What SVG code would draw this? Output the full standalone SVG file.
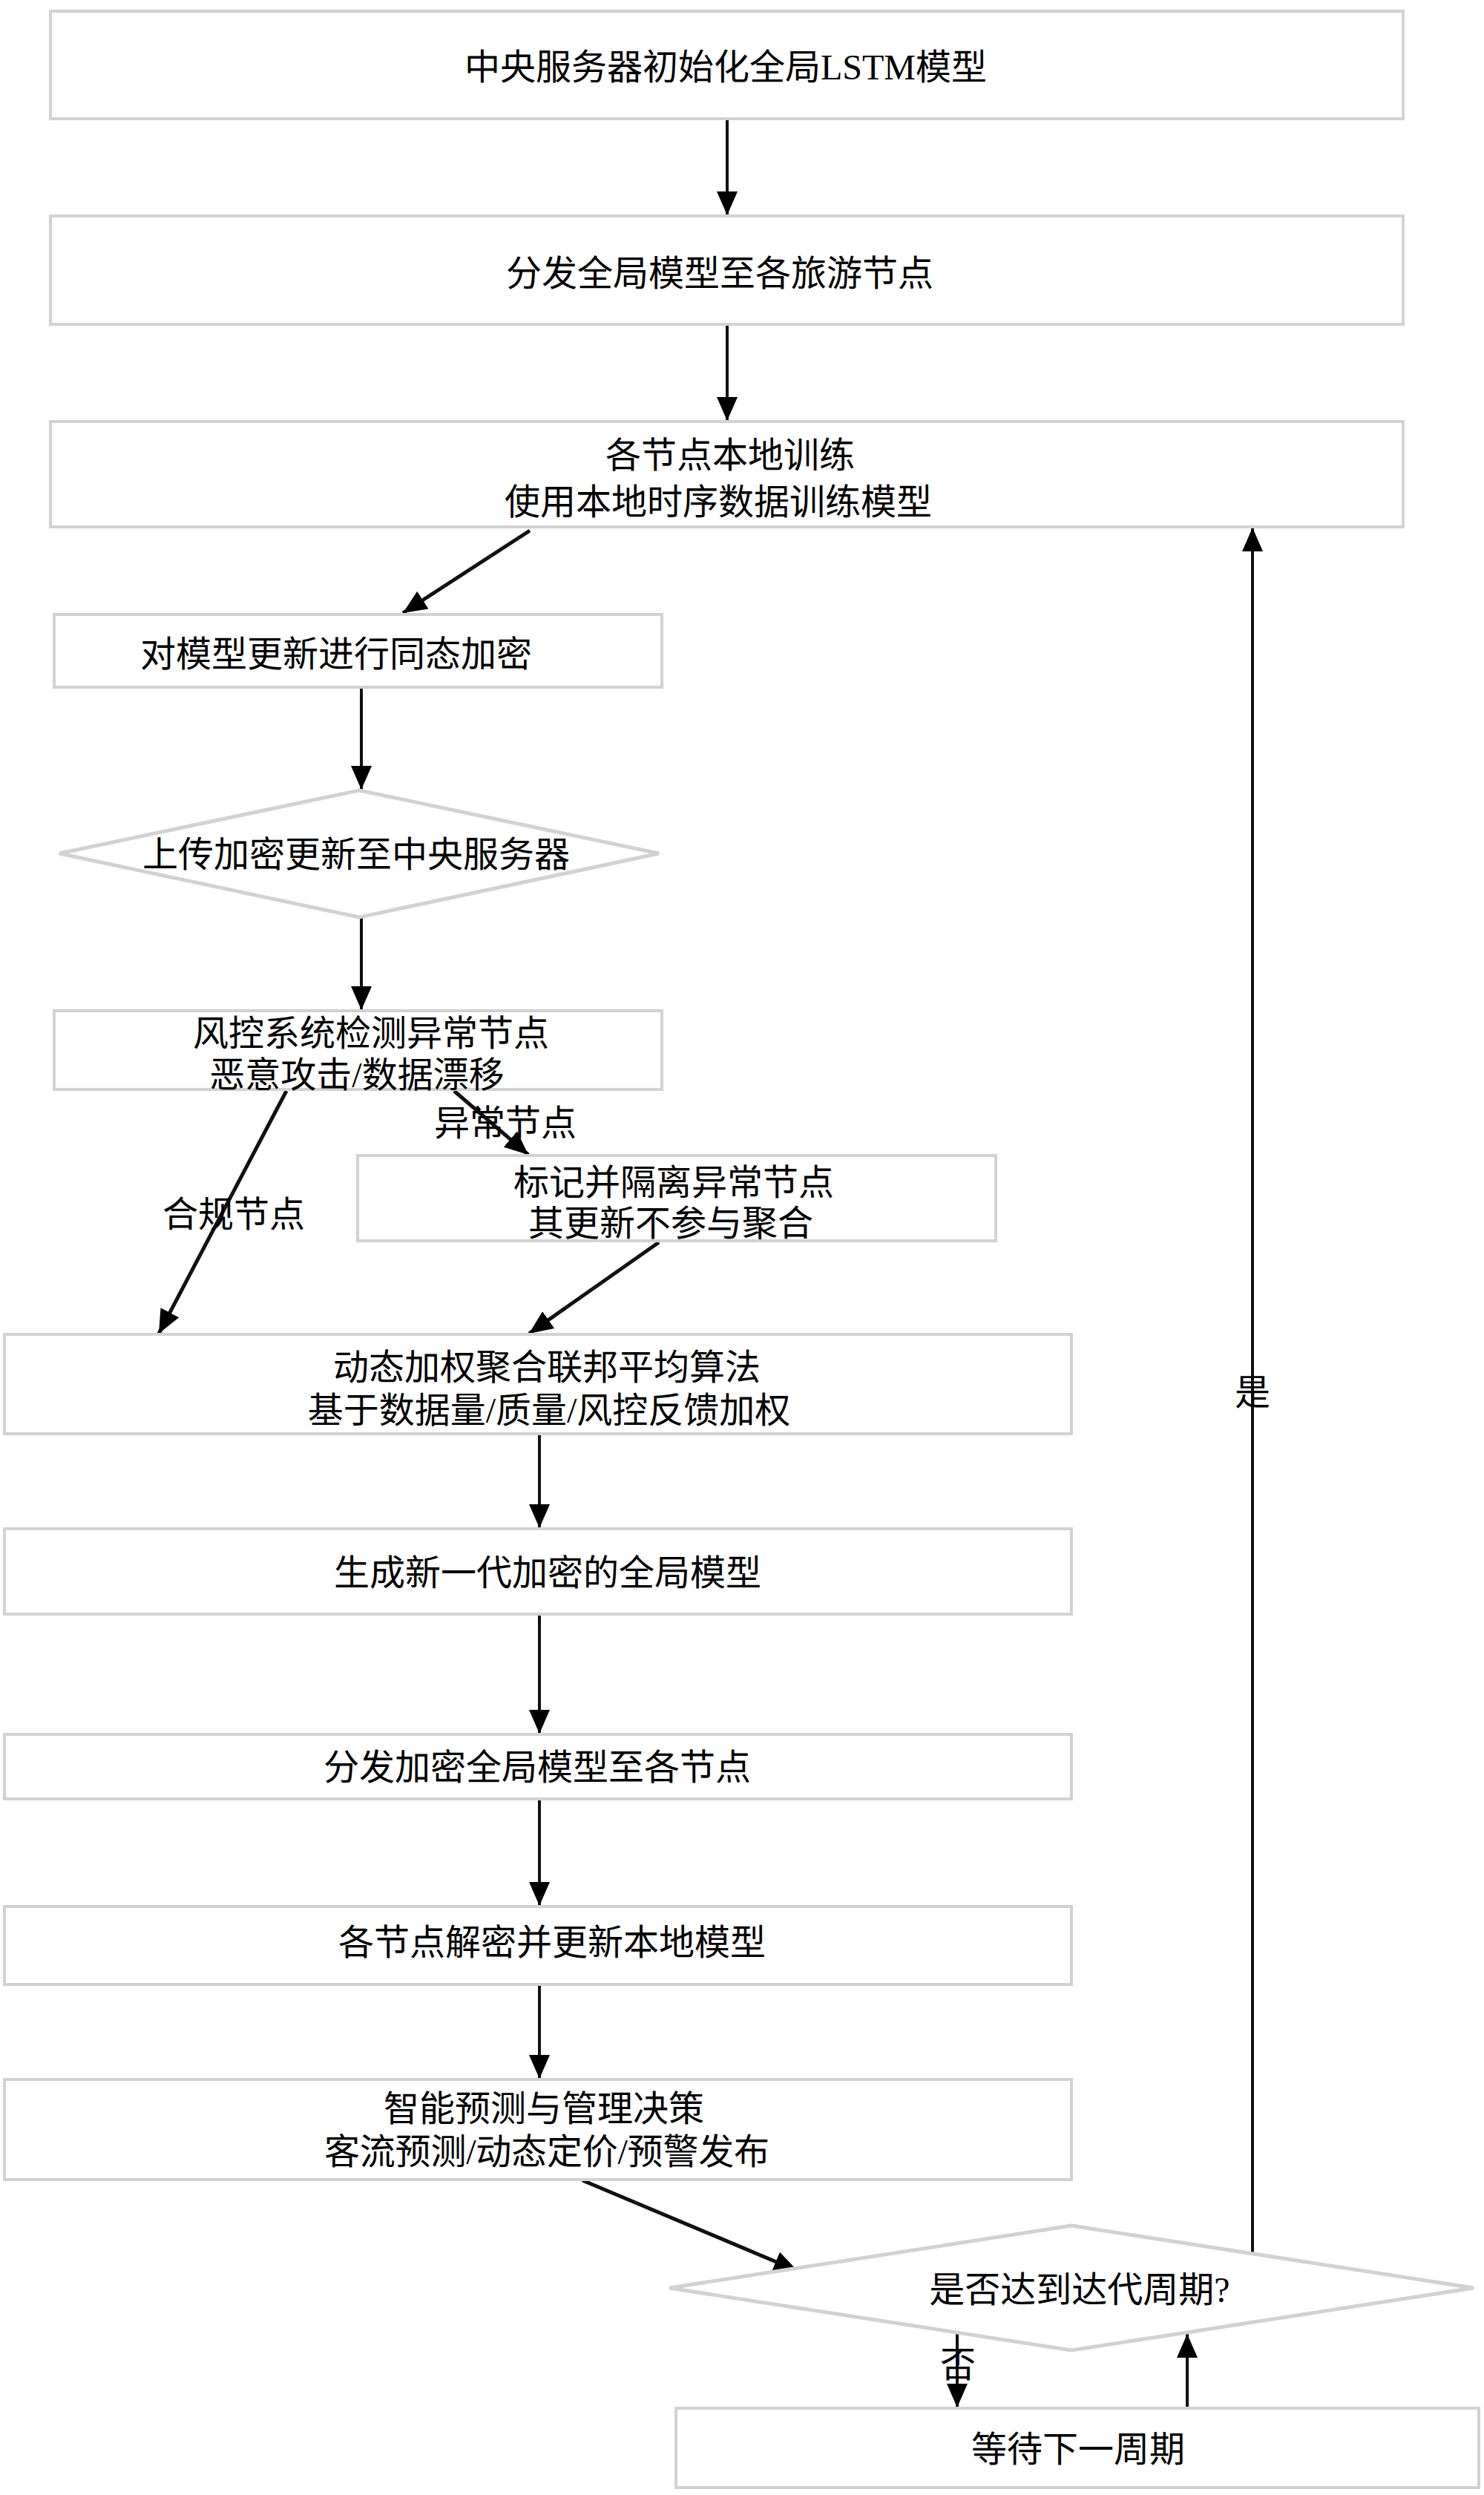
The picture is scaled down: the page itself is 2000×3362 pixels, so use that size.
<svg xmlns="http://www.w3.org/2000/svg" width="2000" height="3362" viewBox="0 0 2000 3362">
<style>
.box{fill:#ffffff;stroke:#d2d2d2;stroke-width:4}
.dia{fill:#ffffff;stroke:#d2d2d2;stroke-width:5}
.t{font-family:"Liberation Serif","Noto Sans CJK SC",serif;font-size:48px;fill:#000;text-anchor:middle}
.ln{stroke:#111;stroke-width:4;fill:none}
.dg{stroke:#111;stroke-width:5;fill:none}
</style>
<defs>
<marker id="ah" markerUnits="userSpaceOnUse" markerWidth="34" markerHeight="28" refX="32" refY="14" orient="auto">
<path d="M0,0 L32,14 L0,28 z" fill="#000"/>
</marker>
</defs>
<rect width="2000" height="3362" fill="#ffffff"/>
<g id="connectors">
<line class="ln" x1="980" y1="161" x2="980" y2="290" marker-end="url(#ah)"/>
<line class="ln" x1="980" y1="437" x2="980" y2="567" marker-end="url(#ah)"/>
<line class="dg" x1="714" y1="715" x2="543" y2="826" marker-end="url(#ah)"/>
<line class="ln" x1="487" y1="926" x2="487" y2="1064" marker-end="url(#ah)"/>
<line class="ln" x1="487" y1="1236" x2="487" y2="1361" marker-end="url(#ah)"/>
<line class="dg" x1="386" y1="1470" x2="214" y2="1797" marker-end="url(#ah)"/>
<line class="dg" x1="612" y1="1470" x2="712" y2="1556" marker-end="url(#ah)"/>
<line class="dg" x1="888" y1="1674" x2="713" y2="1797" marker-end="url(#ah)"/>
<line class="ln" x1="727" y1="1932" x2="727" y2="2059" marker-end="url(#ah)"/>
<line class="ln" x1="727" y1="2175" x2="727" y2="2336" marker-end="url(#ah)"/>
<line class="ln" x1="727" y1="2424" x2="727" y2="2568" marker-end="url(#ah)"/>
<line class="ln" x1="727" y1="2674" x2="727" y2="2801" marker-end="url(#ah)"/>
<line class="dg" x1="785" y1="2938" x2="1075" y2="3060" marker-end="url(#ah)"/>
<line class="ln" x1="1688" y1="3036" x2="1688" y2="711" marker-end="url(#ah)"/>
<line class="ln" x1="1290" y1="3143" x2="1290" y2="3244" marker-end="url(#ah)"/>
<line class="ln" x1="1600" y1="3245" x2="1600" y2="3145" marker-end="url(#ah)"/>
<text class="t" x="681" y="1530">异常节点</text>
<text class="t" x="315" y="1653">合规节点</text>
<text class="t" x="1688" y="1893">是</text>
<text class="t" x="1291" y="3203">否</text>
</g>
<g id="n1"><rect class="box" x="68" y="15" width="1823" height="145"/><text class="t" x="978" y="107">中央服务器初始化全局LSTM模型</text></g>
<g id="n2"><rect class="box" x="68" y="291" width="1823" height="146"/><text class="t" x="970" y="385">分发全局模型至各旅游节点</text></g>
<g id="n3"><rect class="box" x="68" y="568" width="1823" height="142"/><text class="t" x="984" y="630">各节点本地训练</text><text class="t" x="968" y="693">使用本地时序数据训练模型</text></g>
<g id="n4"><rect class="box" x="73" y="828" width="819" height="98"/><text class="t" x="453" y="898">对模型更新进行同态加密</text></g>
<g id="n5"><polygon class="dia" points="484,1065 888,1150 484,1236 80,1150"/><text class="t" x="480" y="1168">上传加密更新至中央服务器</text></g>
<g id="n6"><rect class="box" x="73" y="1362" width="819" height="106"/><text class="t" x="500" y="1409">风控系统检测异常节点</text><text class="t" x="481" y="1465">恶意攻击/数据漂移</text></g>
<g id="n7"><rect class="box" x="482" y="1557" width="860" height="115"/><text class="t" x="908" y="1610">标记并隔离异常节点</text><text class="t" x="904" y="1665">其更新不参与聚合</text></g>
<g id="n8"><rect class="box" x="6" y="1798" width="1438" height="134"/><text class="t" x="737" y="1859">动态加权聚合联邦平均算法</text><text class="t" x="740" y="1917">基于数据量/质量/风控反馈加权</text></g>
<g id="n9"><rect class="box" x="6" y="2060" width="1438" height="115"/><text class="t" x="738" y="2136">生成新一代加密的全局模型</text></g>
<g id="n10"><rect class="box" x="6" y="2337" width="1438" height="87"/><text class="t" x="724" y="2398">分发加密全局模型至各节点</text></g>
<g id="n11"><rect class="box" x="6" y="2569" width="1438" height="105"/><text class="t" x="744" y="2634">各节点解密并更新本地模型</text></g>
<g id="n12"><rect class="box" x="6" y="2802" width="1438" height="135"/><text class="t" x="733" y="2858">智能预测与管理决策</text><text class="t" x="737" y="2916" textLength="600" lengthAdjust="spacing">客流预测/动态定价/预警发布</text></g>
<g id="n13"><polygon class="dia" points="1444,2999 1986,3083 1444,3167 902,3083"/><text class="t" x="1455" y="3102">是否达到达代周期?</text></g>
<g id="n14"><rect class="box" x="911" y="3245" width="1082" height="107"/><text class="t" x="1453" y="3317">等待下一周期</text></g>
</svg>
